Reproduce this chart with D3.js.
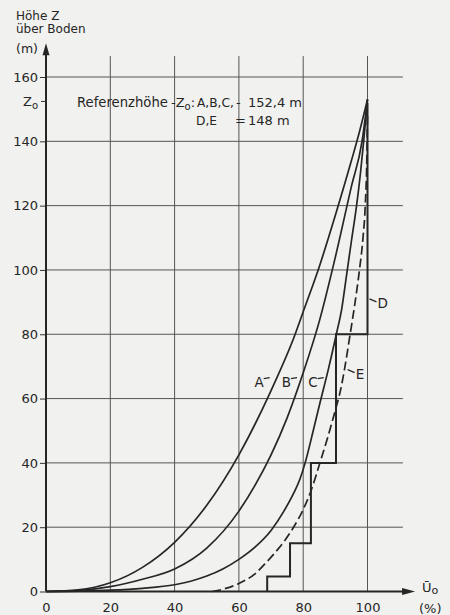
<!DOCTYPE html>
<html>
<head>
<meta charset="utf-8">
<script src="https://cdn.jsdelivr.net/npm/d3@7"></script>
<style>
  body { margin: 0; background: #f1f1ef; }
  text { font-family: "DejaVu Sans", sans-serif; fill: #262626; }
</style>
</head>
<body>
<svg id="chart" width="450" height="615"></svg>
<script>
// Windprofil - Höhe Z über Boden gegen U/U0

var uTicks = [0, 20, 40, 60, 80, 100];
var zTicks = [0, 20, 40, 60, 80, 100, 120, 140, 160];
var zRef = 152.4;

// curve A
var aU = [0, 10, 20, 30, 40, 50, 60, 70, 77.5, 80, 85, 90, 95, 97.5, 100];
var aZ = [0, 0.5, 2.7, 7.5, 15.3, 26.8, 42.5, 62.5, 80, 87, 101, 117, 134, 143, 153];

// curve B
var bU = [0, 10, 20, 30, 40, 50, 60, 65, 70, 75, 80, 85, 90, 95, 98.3, 100];
var bZ = [0, 0.3, 1.5, 3.8, 7, 13.5, 25, 33, 42.5, 54, 68, 84, 104, 126, 140, 153];

// curve C
var cU = [0, 10, 20, 30, 40, 45, 50, 55, 60, 65, 70, 74, 77, 79, 80.6, 83, 85.3, 87.8, 90.3, 92, 93.5, 95, 96.6, 97.8, 98.8, 100];
var cZ = [0, 0.1, 0.4, 1, 2.1, 3.2, 4.8, 7, 10, 13.8, 19, 25, 30.5, 35, 40, 49.5, 59, 69, 80, 88, 98.5, 109, 120, 130, 140, 153];

// curve D (steps)
var dU = [68.8, 75.9, 82.4, 90.2, 100, 100];
var dZ = [0, 4.7, 15, 40, 80, 152];

// curve E (dashed)
var eU = [51.7, 55, 60, 65, 68, 71, 74, 77, 80, 82.5, 85.2, 87.5, 89, 90, 91.7, 93, 94.6, 96, 97.5, 98.6, 99.3, 99.8, 100];
var eZ = [0, 0.7, 2.5, 5.5, 8.5, 11.8, 15.5, 20, 25.5, 31.5, 40, 47.5, 52.8, 56.4, 63, 70, 80, 89, 100, 110, 120, 135, 148];

// label anchor on each curve
var labelNames = ["A", "B", "C", "D", "E"];
var labelU = [70.2, 78.7, 87, 100, 93.2];
var labelZ = [66.5, 66.5, 66.5, 91, 69];

var svg = d3.select("#chart");
var x = d3.scaleLinear().domain([0, 100]).range([46, 367.5]);
var y = d3.scaleLinear().domain([0, 160]).range([591.5, 77]);

// Grid
svg.append("g")
  .selectAll("line")
  .data(uTicks.slice(1))
  .enter()
  .append("line")
  .attr("x1", function (d) { return x(d); })
  .attr("x2", function (d) { return x(d); })
  .attr("y1", y(0))
  .attr("y2", y(166.5))
  .attr("stroke", "#555")
  .attr("stroke-width", 1);

svg.append("g")
  .selectAll("line")
  .data(zTicks.slice(1))
  .enter()
  .append("line")
  .attr("x1", x(0))
  .attr("x2", x(111))
  .attr("y1", function (d) { return y(d); })
  .attr("y2", function (d) { return y(d); })
  .attr("stroke", "#555")
  .attr("stroke-width", 1);

// Y axis
var yAxis = svg.append("g")
  .attr("transform", "translate(" + x(0) + ",0)")
  .call(d3.axisLeft(y).tickValues(zTicks).tickSize(6).tickPadding(2));
yAxis.select(".domain").remove();
yAxis.selectAll("line").attr("stroke", "#333");
yAxis.selectAll("text")
  .attr("font-family", "DejaVu Sans")
  .attr("font-size", 13)
  .attr("fill", "#262626");

// X axis
var xAxis = svg.append("g")
  .attr("transform", "translate(0," + y(0) + ")")
  .call(d3.axisBottom(x).tickValues(uTicks).tickSize(0).tickPadding(11));
xAxis.select(".domain").remove();
xAxis.selectAll("text")
  .attr("font-family", "DejaVu Sans")
  .attr("font-size", 13)
  .attr("fill", "#262626");

// axis lines with arrows
svg.append("line")
  .attr("x1", x(0)).attr("x2", x(0))
  .attr("y1", y(0)).attr("y2", y(168))
  .attr("stroke", "#262626").attr("stroke-width", 2);
svg.append("path")
  .attr("d", "M" + x(0) + "," + y(170.5) + "L" + (x(0) - 3.5) + "," + (y(170.5) + 12) + "L" + (x(0) + 3.5) + "," + (y(170.5) + 12) + "Z")
  .attr("fill", "#262626");

svg.append("line")
  .attr("x1", x(0)).attr("x2", x(112))
  .attr("y1", y(0)).attr("y2", y(0))
  .attr("stroke", "#262626").attr("stroke-width", 2);
svg.append("path")
  .attr("d", "M" + x(114.8) + "," + y(0) + "L" + (x(114.8) - 13) + "," + (y(0) - 3.5) + "L" + (x(114.8) - 13) + "," + (y(0) + 3.5) + "Z")
  .attr("fill", "#262626");

// Z0 tick
svg.append("line")
  .attr("x1", x(0) - 5).attr("x2", x(0))
  .attr("y1", y(zRef)).attr("y2", y(zRef))
  .attr("stroke", "#333");
var z0 = svg.append("text")
  .attr("x", 23)
  .attr("y", y(zRef) + 5)
  .attr("font-size", 13);
z0.append("tspan").text("Z");
z0.append("tspan").attr("font-size", 10).attr("dy", 3).text("o");

// axis titles
svg.append("text").attr("x", 16).attr("y", 20).attr("font-size", 12).text("Höhe Z");
svg.append("text").attr("x", 16).attr("y", 33).attr("font-size", 12).text("über Boden");
svg.append("text").attr("x", 16).attr("y", 53).attr("font-size", 12.5).text("(m)");

var uLab = svg.append("text").attr("x", 422).attr("y", 592).attr("font-size", 13);
uLab.append("tspan").text("Ū");
uLab.append("tspan").attr("font-size", 11).attr("dy", 2).text("o");
svg.append("text").attr("x", 419).attr("y", 613).attr("font-size", 13).text("(%)");

// Referenzhöhe note
svg.append("text").attr("x", 77).attr("y", 107).attr("font-size", 13.2).text("Referenzhöhe");
var note = svg.append("text").attr("x", 171).attr("y", 107).attr("font-size", 13);
note.append("tspan").text("-Z");
note.append("tspan").attr("font-size", 10).attr("dy", 3).text("o");
note.append("tspan").attr("dy", -3).text(":");
svg.append("text").attr("x", 197).attr("y", 107).attr("font-size", 12.2).text("A,B,C,");
svg.append("text").attr("x", 236).attr("y", 107).attr("font-size", 13).text("-");
svg.append("text").attr("x", 248).attr("y", 107).attr("font-size", 13).text("152,4 m");
svg.append("text").attr("x", 196).attr("y", 125).attr("font-size", 12.2).text("D,E");
svg.append("text").attr("x", 235).attr("y", 125).attr("font-size", 13).text("=");
svg.append("text").attr("x", 248).attr("y", 125).attr("font-size", 13).text("148 m");

// Curves
var line = d3.line()
  .x(function (d) { return x(d[0]); })
  .y(function (d) { return y(d[1]); })
  .curve(d3.curveMonotoneX);

function pairs(us, zs) {
  return us.map(function (u, i) { return [u, zs[i]]; });
}

[[aU, aZ], [bU, bZ], [cU, cZ]].forEach(function (c) {
  svg.append("path")
    .attr("d", line(pairs(c[0], c[1])))
    .attr("fill", "none")
    .attr("stroke", "#262626")
    .attr("stroke-width", 1.7);
});

svg.append("path")
  .attr("d", line(pairs(eU, eZ)))
  .attr("fill", "none")
  .attr("stroke", "#262626")
  .attr("stroke-width", 1.7)
  .attr("stroke-dasharray", "9,4");

var stepLine = d3.line()
  .x(function (d) { return x(d[0]); })
  .y(function (d) { return y(d[1]); })
  .curve(d3.curveStepBefore);

svg.append("path")
  .attr("d", stepLine(pairs(dU, dZ)))
  .attr("fill", "none")
  .attr("stroke", "#262626")
  .attr("stroke-width", 2);

// Curve labels
labelNames.forEach(function (name, i) {
  var px = x(labelU[i]);
  var py = y(labelZ[i]);
  var right = name == "D" || name == "E";
  svg.append("line")
    .attr("x1", px + (right ? 2 : -2))
    .attr("x2", px + (right ? 9 : -8))
    .attr("y1", py)
    .attr("y2", py + (right ? 3 : 1))
    .attr("stroke", "#262626")
    .attr("stroke-width", 1.2);
  svg.append("text")
    .attr("x", px + (right ? 10 : -8))
    .attr("y", py + 9)
    .attr("text-anchor", right ? "start" : "end")
    .attr("font-size", 13.5)
    .text(name);
});
</script>
</body>
</html>
